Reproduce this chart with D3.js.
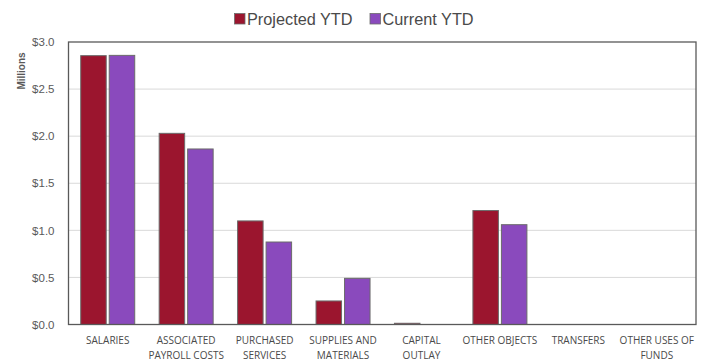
<!DOCTYPE html>
<html><head><meta charset="utf-8">
<script src="https://cdn.jsdelivr.net/npm/d3@7"></script>
<style>body{margin:0;background:#fff;}svg{display:block;}</style>
</head><body>
<script>
const categories = [["SALARIES"],["ASSOCIATED","PAYROLL COSTS"],["PURCHASED","SERVICES"],["SUPPLIES AND","MATERIALS"],["CAPITAL","OUTLAY"],["OTHER OBJECTS"],["TRANSFERS"],["OTHER USES OF","FUNDS"]];
const projectedYTD = [2.855, 2.03, 1.10, 0.25, 0.013, 1.21, 0, 0];
const currentYTD   = [2.858, 1.864, 0.876, 0.49, 0, 1.06, 0, 0];
const seriesNames = ["Projected YTD","Current YTD"];
const colors = ["#9b152e","#8a4abd"];
const yTicks = [0,0.5,1.0,1.5,2.0,2.5,3.0];

const W=708,H=361;
const m={l:68.5,t:42,r:696,b:324.5};
const svg=d3.select("body").append("svg").attr("width",W).attr("height",H);
const keys=categories.map((c,i)=>i);
const x=d3.scaleBand().domain(keys).range([m.l,m.r]).paddingInner(0).paddingOuter(0);
const y=d3.scaleLinear().domain([0,3]).range([m.b,m.t]);

// gridlines
svg.append("g").selectAll("line").data(yTicks.slice(1,-1)).join("line")
  .attr("x1",m.l).attr("x2",m.r).attr("y1",d=>y(d)).attr("y2",d=>y(d))
  .attr("stroke","#d9d9d9").attr("stroke-width",1);

// bars
const bw=25.5, gap=3;
const data=[projectedYTD,currentYTD];
data.forEach((vals,s)=>{
  svg.append("g").selectAll("rect").data(vals).join("rect")
   .attr("x",(d,i)=>x(i)+x.bandwidth()/2 + (s===0? -gap/2-bw : gap/2))
   .attr("width",bw)
   .attr("y",d=>y(d))
   .attr("height",d=>Math.max(0,y(0)-y(d)))
   .attr("fill",colors[s]).attr("stroke",d=>d>0?"#6b6b6b":"none").attr("stroke-width",1);
});

// border
svg.append("rect").attr("x",m.l).attr("y",m.t).attr("width",m.r-m.l).attr("height",m.b-m.t)
  .attr("fill","none").attr("stroke","#595959").attr("stroke-width",1.3);

// y axis
const yAxis=d3.axisLeft(y).tickValues(yTicks).tickFormat(d=>"$"+d3.format(".1f")(d)).tickSize(0).tickPadding(14);
const ga=svg.append("g").attr("transform",`translate(${m.l},0)`).call(yAxis);
ga.select(".domain").remove();
ga.selectAll("text").attr("font-family","Liberation Sans, Arial, sans-serif").attr("font-size","11.5px").attr("fill","#595959");

svg.append("text").attr("transform",`translate(25,71) rotate(-90)`)
  .attr("text-anchor","middle").attr("font-family","Liberation Sans, Arial, sans-serif")
  .attr("font-size","10px").attr("font-weight","bold").attr("fill","#595959").text("Millions");

// x labels
const xl=svg.append("g");
categories.forEach((lines,i)=>{
  const t=xl.append("text").attr("text-anchor","middle").attr("font-family","Open Sans, sans-serif")
   .attr("font-size","10px").attr("fill","#4a4a4a");
  lines.forEach((ln,j)=>t.append("tspan").attr("x",x(i)+x.bandwidth()/2).attr("y",344+j*15.2).text(ln));
});

// legend
const lg=svg.append("g");
const legX=[234.5,370];
seriesNames.forEach((n,i)=>{
  lg.append("rect").attr("x",legX[i]).attr("y",13.5).attr("width",10.5).attr("height",10.5)
    .attr("fill",colors[i]).attr("stroke","#6b6b6b").attr("stroke-width",0.8);
  lg.append("text").attr("x",legX[i]+12.5).attr("y",24.5).attr("font-family","Liberation Sans, Arial, sans-serif")
    .attr("font-size","16.3px").attr("fill","#4a4a4a").text(n);
});
</script>
</body></html>
